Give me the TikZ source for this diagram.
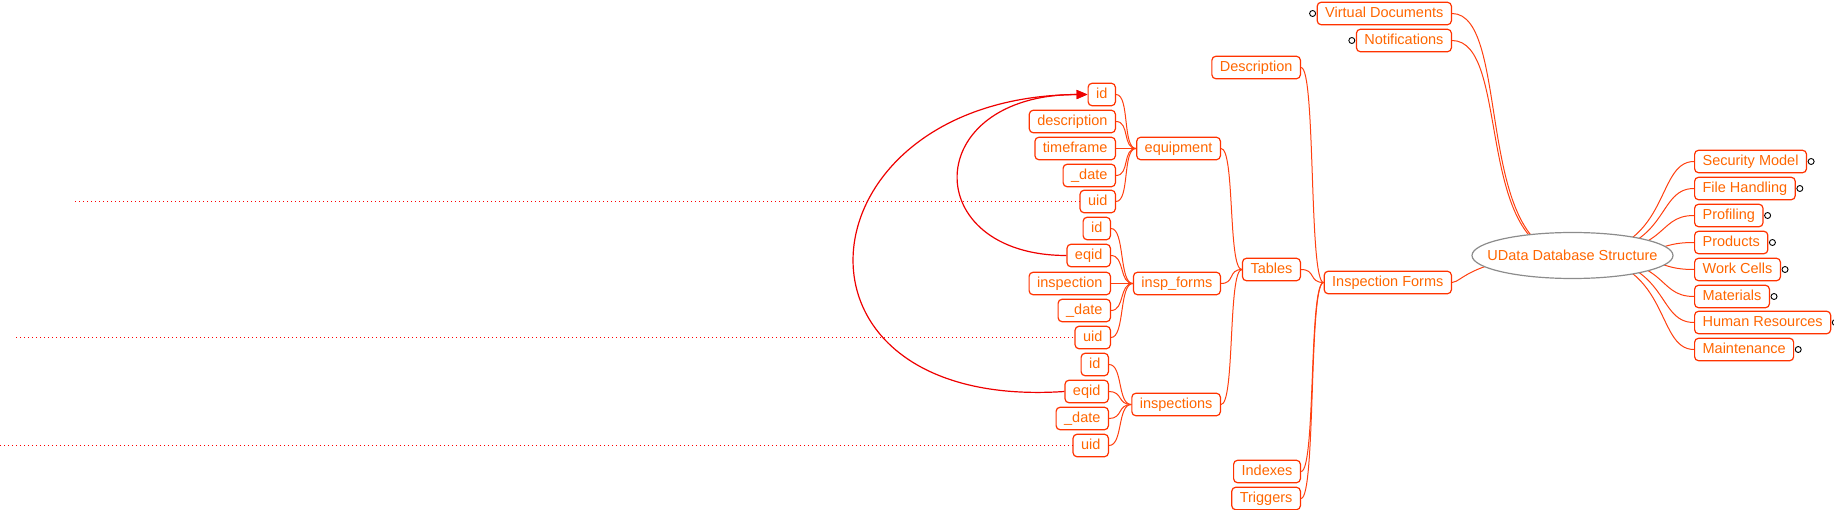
\documentclass[tikz,border=0pt]{standalone}
\usepackage{fontspec}
\setmainfont{Liberation Sans}
\usetikzlibrary{shapes.geometric,arrows.meta}
\pgfdeclarelayer{background}
\pgfsetlayers{background,main}
\definecolor{nodeborder}{RGB}{255,51,0}
\definecolor{nodetext}{RGB}{255,102,0}
\definecolor{edgecol}{RGB}{255,64,16}
\definecolor{linkcol}{RGB}{238,0,0}
\definecolor{rootborder}{RGB}{140,140,140}
\begin{document}
\begin{tikzpicture}[x=1pt,y=-1pt,
 topic/.style={draw=nodeborder, line width=1.2pt, rounded corners=4pt, text=nodetext,
   font=\fontsize{14.5}{16}\selectfont, inner xsep=8pt, inner ysep=0pt,
   text height=10.5pt, text depth=3pt, minimum height=22.5pt, fill=white},
 lt/.style={topic, anchor=east},
 rt/.style={topic, anchor=west},
 conn/.style={draw=edgecol, line width=1pt},
 arrowlink/.style={draw=linkcol, line width=1.2pt, -{Triangle[length=11pt,width=9pt]}},
 dotline/.style={draw=red, line width=1.2pt, dash pattern=on 1.3pt off 2.7pt},
 fold/.style={draw=black, line width=0.9pt, fill=white}]
\useasboundingbox (0,0) rectangle (1834,510);

\begin{scope}[yshift=-1.5pt]
% root
\node[draw=rootborder, line width=1.2pt, ellipse, minimum width=201pt, minimum height=46pt,
  inner sep=0pt, fill=white, text=nodetext, font=\fontsize{14.5}{16}\selectfont,
  text height=1pt, text depth=0pt] (U) at (1572.5,254)
  {\raisebox{-4.5pt}[0pt][0pt]{\makebox[0pt][c]{UData Database Structure}}};

% left side of root
\node[lt] (VD) at (1452,12) {Virtual Documents};
\node[lt] (NT) at (1452,39) {Notifications};
\node[lt] (IF) at (1452,281) {Inspection Forms};

% Inspection Forms children
\node[lt] (DS) at (1301,66) {Description};
\node[lt] (TB) at (1301,268) {Tables};
\node[lt] (IX) at (1301,470) {Indexes};
\node[lt] (TR) at (1301,497) {Triggers};

% Tables children
\node[lt] (EQ) at (1221,147) {equipment};
\node[lt] (FM) at (1221,282) {insp\_forms};
\node[lt] (IN) at (1221,403) {inspections};

% equipment fields
\node[lt] (e1) at (1116,93) {id};
\node[lt] (e2) at (1116,120) {description};
\node[lt] (e3) at (1116,147) {timeframe};
\node[lt] (e4) at (1116,174) {\_date};
\node[lt] (e5) at (1116,200) {uid};

% insp_forms fields
\node[lt] (f1) at (1111,227) {id};
\node[lt] (f2) at (1111,254) {eqid};
\node[lt] (f3) at (1111,282) {inspection};
\node[lt] (f4) at (1111,309) {\_date};
\node[lt] (f5) at (1111,336) {uid};

% inspections fields
\node[lt] (i1) at (1109,363) {id};
\node[lt] (i2) at (1109,390) {eqid};
\node[lt] (i3) at (1109,417) {\_date};
\node[lt] (i4) at (1109,444) {uid};

% right side of root
\node[rt] (SM) at (1694,160) {Security Model};
\node[rt] (FH) at (1694,187) {File Handling};
\node[rt] (PF) at (1694,214) {Profiling};
\node[rt] (PD) at (1694,241) {Products};
\node[rt] (WC) at (1694,268) {Work Cells};
\node[rt] (MA) at (1694,295) {Materials};
\node[rt] (HR) at (1694,321) {Human Resources};
\node[rt] (MN) at (1694,348) {Maintenance};

% fold markers
\foreach \n in {SM,FH,PF,PD,WC,MA,HR,MN}
  \draw[fold] ([xshift=4pt]\n.east) circle (3pt);
\foreach \n in {VD,NT}
  \draw[fold] ([xshift=-4pt]\n.west) circle (3pt);

\begin{pgfonlayer}{background}
% root edges
\foreach \n in {VD,NT}
  \draw[conn] (\n.east) .. controls +(60,0) and +(-100,0) .. (U.center);
\draw[conn] (IF.east) .. controls +(10,0) and +(-100,0) .. (U.center);
\foreach \n in {SM,FH,PF,PD,WC,MA,HR,MN}
  \draw[conn] (U.center) .. controls +(100,0) and +(-40,0) .. (\n.west);
% Inspection Forms subtree
\foreach \n in {DS,TB,IX,TR}
  \draw[conn] (\n.east) .. controls +(15,0) and +(-15,0) .. (IF.west);
\foreach \n in {EQ,FM,IN}
  \draw[conn] (\n.east) .. controls +(14,0) and +(-14,0) .. (TB.west);
\foreach \n in {e1,e2,e3,e4,e5}
  \draw[conn] (\n.east) .. controls +(14,0) and +(-14,0) .. (EQ.west);
\foreach \n in {f1,f2,f3,f4,f5}
  \draw[conn] (\n.east) .. controls +(14,0) and +(-14,0) .. (FM.west);
\foreach \n in {i1,i2,i3,i4}
  \draw[conn] (\n.east) .. controls +(14,0) and +(-14,0) .. (IN.west);
\end{pgfonlayer}

% dotted leaders
\coordinate (d1) at (75,200);
\coordinate (d2) at (16,336);
\coordinate (d3) at (0,444);
\draw[dotline] (d1) -- (e5.west);
\draw[dotline] (d2) -- (f5.west);
\draw[dotline] (d3) -- (i4.west);

% arrow links
\draw[arrowlink] (f2.west) .. controls +(-148,0) and +(-168,0) .. (e1.west);
\draw[arrowlink] (i2.west) .. controls +(-300,20) and +(-290,2) .. (e1.west);
\end{scope}

\end{tikzpicture}
\end{document}
